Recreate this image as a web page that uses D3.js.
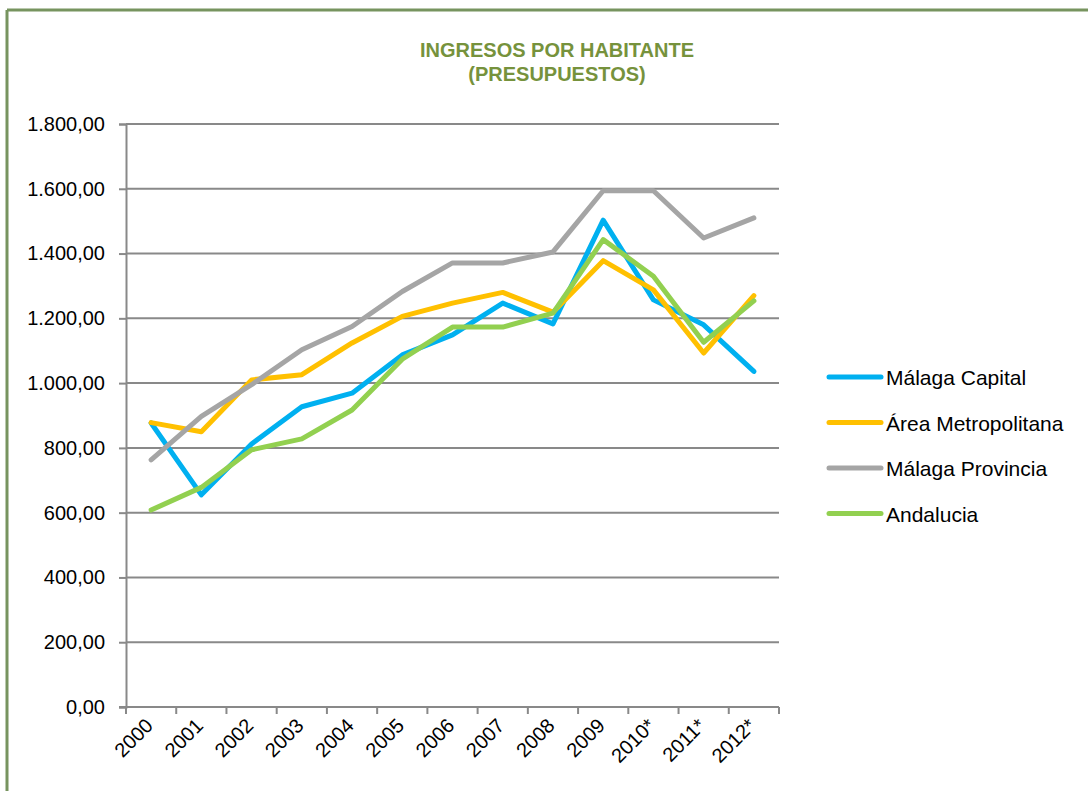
<!DOCTYPE html>
<html>
<head>
<meta charset="utf-8">
<script src="https://cdn.jsdelivr.net/npm/d3@7"></script>
<style>
  body { margin: 0; background: #fff; }
  text { font-family: Arial, "Liberation Sans", sans-serif; }
</style>
</head>
<body>
<div id="chart"></div>
<script>
// data
const years = ["2000", "2001", "2002", "2003", "2004", "2005", "2006", "2007", "2008", "2009", "2010*", "2011*", "2012*"];
const malagaCapital = [877, 655, 812, 927, 969, 1087, 1149, 1247, 1183, 1503, 1257, 1180, 1036];
const areaMetropolitana = [878, 850, 1010, 1026, 1124, 1206, 1247, 1280, 1219, 1378, 1288, 1093, 1270];
const malagaProvincia = [763, 897, 995, 1103, 1175, 1283, 1371, 1371, 1405, 1594, 1594, 1448, 1510];
const andalucia = [608, 678, 794, 828, 917, 1074, 1173, 1173, 1216, 1443, 1330, 1126, 1254];
const yTicks = [0, 200, 400, 600, 800, 1000, 1200, 1400, 1600, 1800];

const seriesNames = ["Málaga Capital", "Área Metropolitana", "Málaga Provincia", "Andalucia"];
const seriesColors = ["#00B0F0", "#FFC000", "#A5A5A5", "#92D050"];
const series = [malagaCapital, areaMetropolitana, malagaProvincia, andalucia];

const width = 1088, height = 791;
const plot = { left: 126, right: 779, top: 124, bottom: 707 };

const svg = d3.select("#chart")
    .append("svg")
    .attr("width", width)
    .attr("height", height);

// frame (only top and left edges are visible)
svg.append("line").attr("x1", 7).attr("y1", 10).attr("x2", width).attr("y2", 10)
    .attr("stroke", "#77945F").attr("stroke-width", 3);
svg.append("line").attr("x1", 7).attr("y1", 10).attr("x2", 7).attr("y2", height)
    .attr("stroke", "#77945F").attr("stroke-width", 3);

// title
const title = svg.append("text")
    .attr("x", 557).attr("y", 57)
    .attr("text-anchor", "middle")
    .style("font-size", "20px")
    .style("font-weight", "bold")
    .style("fill", "#76923C");
title.append("tspan").attr("x", 557).text("INGRESOS POR HABITANTE");
title.append("tspan").attr("x", 557).attr("dy", 24).text("(PRESUPUESTOS)");

// scales
const x = d3.scaleBand().domain(years).range([plot.left, plot.right]).padding(0);
const y = d3.scaleLinear().domain([0, 1800]).range([plot.bottom, plot.top]);
const fmt = d => d3.format(",.2f")(d).replace(/,/g, "#").replace(".", ",").replace(/#/g, ".");

// gridlines + y axis
const yAxis = svg.append("g")
    .attr("transform", `translate(${plot.left},0)`)
    .call(d3.axisLeft(y).tickValues(yTicks).tickSize(7).tickFormat(fmt));
yAxis.select(".domain").attr("stroke", "#898989").attr("stroke-width", 2);
yAxis.selectAll(".tick line").attr("stroke", "#898989").attr("stroke-width", 2);
yAxis.selectAll(".tick text")
    .attr("x", -21)
    .style("font-size", "20px")
    .style("fill", "#000");

svg.append("g")
    .selectAll("line")
    .data(yTicks.filter(d => d > 0))
    .enter()
    .append("line")
    .attr("x1", plot.left)
    .attr("x2", plot.right)
    .attr("y1", d => y(d))
    .attr("y2", d => y(d))
    .attr("stroke", "#898989")
    .attr("stroke-width", 2);

// x axis with ticks on band edges
const xAxis = svg.append("g")
    .attr("transform", `translate(0,${plot.bottom})`);
xAxis.append("line")
    .attr("x1", plot.left - 7).attr("x2", plot.right)
    .attr("stroke", "#898989").attr("stroke-width", 2);
const edges = years.map(d => x(d)).concat([plot.right]);
xAxis.selectAll(".edge")
    .data(edges)
    .enter()
    .append("line")
    .attr("class", "edge")
    .attr("x1", d => d).attr("x2", d => d)
    .attr("y1", 0).attr("y2", 7)
    .attr("stroke", "#898989").attr("stroke-width", 2);
xAxis.selectAll(".lbl")
    .data(years)
    .enter()
    .append("text")
    .attr("class", "lbl")
    .attr("text-anchor", "end")
    .attr("transform", d => `translate(${x(d) + x.bandwidth() / 2 + 3},${20}) rotate(-45)`)
    .style("font-size", "20px")
    .text(d => d);

// lines
const line = d3.line()
    .x((d, i) => x(years[i]) + x.bandwidth() / 2)
    .y(d => y(d));

svg.append("g")
    .selectAll("path")
    .data(series)
    .enter()
    .append("path")
    .attr("d", d => line(d))
    .attr("fill", "none")
    .attr("stroke", (d, i) => seriesColors[i])
    .attr("stroke-width", 5)
    .attr("stroke-linejoin", "round")
    .attr("stroke-linecap", "round");

// legend
const legend = svg.append("g")
    .selectAll("g")
    .data(seriesNames)
    .enter()
    .append("g")
    .attr("transform", (d, i) => `translate(827,${377 + i * 45.5})`);
legend.append("line")
    .attr("x1", 2).attr("x2", 54)
    .attr("stroke", (d, i) => seriesColors[i])
    .attr("stroke-width", 5)
    .attr("stroke-linecap", "round");
legend.append("text")
    .attr("x", 59).attr("y", 8)
    .style("font-size", "21px")
    .text(d => d);
</script>
</body>
</html>
